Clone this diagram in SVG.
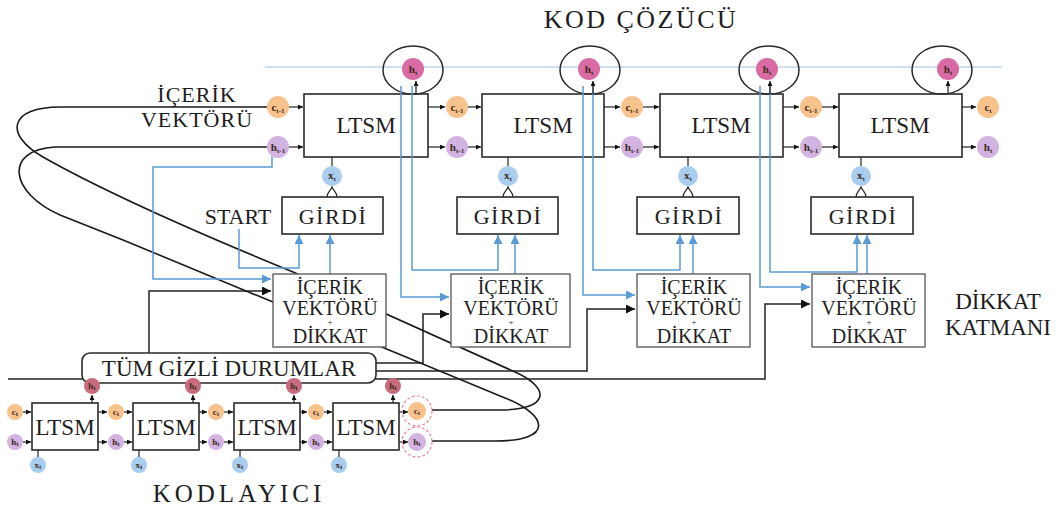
<svg xmlns="http://www.w3.org/2000/svg" width="1059" height="511" viewBox="0 0 1059 511">
<style>
.t{font-family:"Liberation Serif","Times New Roman",serif;fill:#1e1e1e}
.box{fill:#fff;stroke:#2a2a2a;stroke-width:1.6}
.abox{fill:#fff;stroke:#555;stroke-width:1.3}
.blk{fill:none;stroke:#222;stroke-width:1.5}
.blu{fill:none;stroke:#5b9bd5;stroke-width:1.5}
.cur{fill:none;stroke:#1a1a1a;stroke-width:1.6}
.sm{fill:none;stroke:#222;stroke-width:1.2}
.co{fill:#f8c28c}
.ch{fill:#d2b3e1}
.cx{fill:#a8cdef}
.cp{fill:#d96aa4}
.cr{fill:#c86b7d}
.lb{font-family:"Liberation Serif","Times New Roman",serif;font-size:11px;fill:#3a2a20;text-anchor:middle;font-weight:bold}
.le{font-family:"Liberation Serif","Times New Roman",serif;font-size:9px;fill:#3a2a20;text-anchor:middle;font-weight:bold}
.sb{font-size:7px}
.dash{fill:none;stroke:#e58a9a;stroke-width:1.2;stroke-dasharray:3 2}
.ell{fill:none;stroke:#2a2a2a;stroke-width:1.5}
</style>
<defs>
<marker id="ak" viewBox="0 0 10 10" refX="10" refY="5" markerWidth="9" markerHeight="9" markerUnits="userSpaceOnUse" orient="auto"><path d="M0,0 L10,5 L0,10 z" fill="#111"/></marker>
<marker id="ab" viewBox="0 0 10 10" refX="10" refY="5" markerWidth="9" markerHeight="9" markerUnits="userSpaceOnUse" orient="auto"><path d="M0,0 L10,5 L0,10 z" fill="#5b9bd5"/></marker>
<marker id="as" viewBox="0 0 10 10" refX="10" refY="5" markerWidth="5" markerHeight="5" markerUnits="userSpaceOnUse" orient="auto"><path d="M0,0 L10,5 L0,10 z" fill="#111"/></marker>
</defs>
<rect width="1059" height="511" fill="#fff"/>

<!-- titles -->
<text class="t" x="641" y="28" font-size="26" text-anchor="middle" letter-spacing="2.5">KOD ÇÖZÜCÜ</text>
<text class="t" x="239" y="502" font-size="25" text-anchor="middle" letter-spacing="4">KODLAYICI</text>
<text class="t" x="197" y="102" font-size="22" text-anchor="middle" letter-spacing="1">İÇERİK</text>
<text class="t" x="197" y="127" font-size="22" text-anchor="middle" letter-spacing="1">VEKTÖRÜ</text>
<text class="t" x="238" y="224" font-size="22" text-anchor="middle">START</text>
<text class="t" x="998" y="309" font-size="23" text-anchor="middle">DİKKAT</text>
<text class="t" x="998" y="335" font-size="23" text-anchor="middle">KATMANI</text>

<line x1="265" y1="67" x2="1002" y2="67" stroke="#9dc3e6" stroke-width="1.2"/>

<!-- decoder cells -->
<g id="dec1">
<rect class="box" x="304" y="94" width="124" height="63"/>
<text class="t" x="366" y="133" font-size="23" text-anchor="middle">LTSM</text>
<ellipse class="ell" cx="413" cy="70" rx="30" ry="24"/>
<circle class="cp" cx="413" cy="69" r="11"/>
<text class="lb" x="413" y="73">h<tspan class="sb" dy="2">t</tspan></text>
</g>
<g id="dec2">
<rect class="box" x="482" y="94" width="122" height="63"/>
<text class="t" x="543" y="133" font-size="23" text-anchor="middle">LTSM</text>
<ellipse class="ell" cx="590" cy="70" rx="30" ry="24"/>
<circle class="cp" cx="589" cy="69" r="11"/>
<text class="lb" x="589" y="73">h<tspan class="sb" dy="2">t</tspan></text>
</g>
<g id="dec3">
<rect class="box" x="660" y="94" width="123" height="63"/>
<text class="t" x="721" y="133" font-size="23" text-anchor="middle">LTSM</text>
<ellipse class="ell" cx="769" cy="70" rx="30" ry="24"/>
<circle class="cp" cx="767" cy="69" r="11"/>
<text class="lb" x="767" y="73">h<tspan class="sb" dy="2">t</tspan></text>
</g>
<g id="dec4">
<rect class="box" x="839" y="94" width="123" height="63"/>
<text class="t" x="900" y="133" font-size="23" text-anchor="middle">LTSM</text>
<ellipse class="ell" cx="942" cy="70" rx="30" ry="24"/>
<circle class="cp" cx="948" cy="69" r="11"/>
<text class="lb" x="948" y="73">h<tspan class="sb" dy="2">t</tspan></text>
</g>

<!-- connectors -->
<g id="connectors">
<path class="cur" d="M432,410 L500,410 C550,410 551,388 515,372 L293,272 C210,238 110,195 43,157 C3,134 10,107 60,107 L267,107"/>
<path class="cur" d="M432,441 L495,441 C555,441 548,415 505,398 L123,240 L60,215 C10,193 3,150 55,147 L267,147"/>
<path class="blk" d="M149,353 V291 H271" marker-end="url(#ak)"/>
<path class="blk" d="M376,363 H423 V314 H449" marker-end="url(#ak)"/>
<path class="blk" d="M376,371 H587 V309 H635" marker-end="url(#ak)"/>
<path class="blk" d="M8,379 H765 V304 H810" marker-end="url(#ak)" stroke="#333"/>
<path class="blu" d="M401,86 V297 H449" marker-end="url(#ab)"/>
<path class="blu" d="M412,86 V270 H498 V235" marker-end="url(#ab)"/>
<path class="blu" d="M583,86 V295 H635" marker-end="url(#ab)"/>
<path class="blu" d="M593,86 V270 H680 V235" marker-end="url(#ab)"/>
<path class="blu" d="M760,86 V287 H810" marker-end="url(#ab)"/>
<path class="blu" d="M770,86 V272 H857 V235" marker-end="url(#ab)"/>
<path class="blu" d="M330,274 V235" marker-end="url(#ab)"/>
<path class="blu" d="M515,274 V235" marker-end="url(#ab)"/>
<path class="blu" d="M693,274 V235" marker-end="url(#ab)"/>
<path class="blu" d="M867,274 V235" marker-end="url(#ab)"/>
<path class="blu" d="M239,229 V268 H299 V235" marker-end="url(#ab)"/>
<path class="blu" d="M272,156 V167 H153 V279 H271" marker-end="url(#ab)"/>
<!-- decoder small arrows -->
<g class="sm">
<path d="M416,94 V81" marker-end="url(#as)"/>
<path d="M593,94 V81" marker-end="url(#as)"/>
<path d="M770,94 V81" marker-end="url(#as)"/>
<path d="M948,94 V81" marker-end="url(#as)"/>
<path d="M289,107 H303" marker-end="url(#as)"/>
<path d="M289,147 H303" marker-end="url(#as)"/>
<path d="M428,107 H445" marker-end="url(#as)"/>
<path d="M428,147 H445" marker-end="url(#as)"/>
<path d="M468,107 H481" marker-end="url(#as)"/>
<path d="M468,147 H481" marker-end="url(#as)"/>
<path d="M604,107 H620" marker-end="url(#as)"/>
<path d="M604,147 H620" marker-end="url(#as)"/>
<path d="M643,107 H659" marker-end="url(#as)"/>
<path d="M643,147 H659" marker-end="url(#as)"/>
<path d="M783,107 H799" marker-end="url(#as)"/>
<path d="M783,147 H799" marker-end="url(#as)"/>
<path d="M822,107 H838" marker-end="url(#as)"/>
<path d="M822,147 H838" marker-end="url(#as)"/>
<path d="M962,107 H976" marker-end="url(#as)"/>
<path d="M962,147 H976" marker-end="url(#as)"/>
<path d="M332,157 V166"/>
<path d="M508,157 V166"/>
<path d="M688,157 V166"/>
<path d="M861,157 V166"/>
<path d="M327,197 C327,192 330,192 332,187 C334,192 337,192 337,197"/>
<path d="M503,197 C503,192 506,192 508,187 C510,192 513,192 513,197"/>
<path d="M683,197 C683,192 686,192 688,187 C690,192 693,192 693,197"/>
<path d="M856,197 C856,192 859,192 861,187 C863,192 866,192 866,197"/>
<!-- encoder small arrows -->
<path d="M23,412 H31" marker-end="url(#as)"/>
<path d="M23,442 H31" marker-end="url(#as)"/>
<path d="M98,412 H107" marker-end="url(#as)"/>
<path d="M98,442 H107" marker-end="url(#as)"/>
<path d="M124,412 H132" marker-end="url(#as)"/>
<path d="M124,442 H132" marker-end="url(#as)"/>
<path d="M199,412 H207" marker-end="url(#as)"/>
<path d="M199,442 H207" marker-end="url(#as)"/>
<path d="M224,412 H233" marker-end="url(#as)"/>
<path d="M224,442 H233" marker-end="url(#as)"/>
<path d="M300,412 H307" marker-end="url(#as)"/>
<path d="M300,442 H307" marker-end="url(#as)"/>
<path d="M324,412 H332" marker-end="url(#as)"/>
<path d="M324,442 H332" marker-end="url(#as)"/>
<path d="M399,412 H408" marker-end="url(#as)"/>
<path d="M399,442 H408" marker-end="url(#as)"/>
<path d="M92,403 V395" marker-end="url(#as)"/>
<path d="M193,403 V395" marker-end="url(#as)"/>
<path d="M294,403 V395" marker-end="url(#as)"/>
<path d="M393,403 V395" marker-end="url(#as)"/>
<path d="M38,450 V457"/>
<path d="M139,450 V457"/>
<path d="M240,450 V457"/>
<path d="M339,450 V457"/>
</g>
</g>

<!-- decoder state circles -->
<g id="dstates">
<circle class="co" cx="278" cy="107" r="11"/><text class="lb" x="278" y="111">c<tspan class="sb" dy="2">t-1</tspan></text>
<circle class="ch" cx="278" cy="147" r="11"/><text class="lb" x="278" y="151">h<tspan class="sb" dy="2">t-1</tspan></text>
<circle class="co" cx="457" cy="107" r="11"/><text class="lb" x="457" y="111">c<tspan class="sb" dy="2">t-1</tspan></text>
<circle class="ch" cx="457" cy="147" r="11"/><text class="lb" x="457" y="151">h<tspan class="sb" dy="2">t-1</tspan></text>
<circle class="co" cx="632" cy="107" r="11"/><text class="lb" x="632" y="111">c<tspan class="sb" dy="2">t-1</tspan></text>
<circle class="ch" cx="632" cy="147" r="11"/><text class="lb" x="632" y="151">h<tspan class="sb" dy="2">t-1</tspan></text>
<circle class="co" cx="811" cy="107" r="11"/><text class="lb" x="811" y="111">c<tspan class="sb" dy="2">t-1</tspan></text>
<circle class="ch" cx="811" cy="147" r="11"/><text class="lb" x="811" y="151">h<tspan class="sb" dy="2">t-1</tspan></text>
<circle class="co" cx="988" cy="107" r="11"/><text class="lb" x="988" y="111">c<tspan class="sb" dy="2">t</tspan></text>
<circle class="ch" cx="988" cy="147" r="11"/><text class="lb" x="988" y="151">h<tspan class="sb" dy="2">t</tspan></text>
<circle class="cx" cx="332" cy="176" r="10"/><text class="lb" x="332" y="179">x<tspan class="sb" dy="2">t</tspan></text>
<circle class="cx" cx="508" cy="176" r="10"/><text class="lb" x="508" y="179">x<tspan class="sb" dy="2">t</tspan></text>
<circle class="cx" cx="688" cy="176" r="10"/><text class="lb" x="688" y="179">x<tspan class="sb" dy="2">t</tspan></text>
<circle class="cx" cx="861" cy="176" r="10"/><text class="lb" x="861" y="179">x<tspan class="sb" dy="2">t</tspan></text>
</g>

<!-- input boxes -->
<g id="girdi1"><rect class="box" x="282" y="197" width="101" height="37"/><text class="t" x="333" y="224" font-size="22" text-anchor="middle" letter-spacing="1.5">GİRDİ</text></g>
<g id="girdi2"><rect class="box" x="457" y="197" width="101" height="37"/><text class="t" x="508" y="224" font-size="22" text-anchor="middle" letter-spacing="1.5">GİRDİ</text></g>
<g id="girdi3"><rect class="box" x="637" y="197" width="102" height="37"/><text class="t" x="689" y="224" font-size="22" text-anchor="middle" letter-spacing="1.5">GİRDİ</text></g>
<g id="girdi4"><rect class="box" x="811" y="197" width="102" height="37"/><text class="t" x="863" y="224" font-size="22" text-anchor="middle" letter-spacing="1.5">GİRDİ</text></g>

<!-- attention boxes -->
<g id="att1"><rect class="abox" x="273" y="274" width="113" height="73"/>
<text class="t" x="330" y="294" font-size="20" text-anchor="middle">İÇERİK</text><text class="t" x="330" y="315" font-size="20" text-anchor="middle">VEKTÖRÜ</text><text class="t" x="330" y="325" font-size="9" text-anchor="middle">+</text><text class="t" x="330" y="343" font-size="20" text-anchor="middle">DİKKAT</text></g>
<g id="att2"><rect class="abox" x="451" y="274" width="119" height="73"/>
<text class="t" x="511" y="294" font-size="20" text-anchor="middle">İÇERİK</text><text class="t" x="511" y="315" font-size="20" text-anchor="middle">VEKTÖRÜ</text><text class="t" x="511" y="325" font-size="9" text-anchor="middle">+</text><text class="t" x="511" y="343" font-size="20" text-anchor="middle">DİKKAT</text></g>
<g id="att3"><rect class="abox" x="637" y="274" width="113" height="73"/>
<text class="t" x="694" y="294" font-size="20" text-anchor="middle">İÇERİK</text><text class="t" x="694" y="315" font-size="20" text-anchor="middle">VEKTÖRÜ</text><text class="t" x="694" y="325" font-size="9" text-anchor="middle">+</text><text class="t" x="694" y="343" font-size="20" text-anchor="middle">DİKKAT</text></g>
<g id="att4"><rect class="abox" x="812" y="274" width="113" height="73"/>
<text class="t" x="869" y="294" font-size="20" text-anchor="middle">İÇERİK</text><text class="t" x="869" y="315" font-size="20" text-anchor="middle">VEKTÖRÜ</text><text class="t" x="869" y="325" font-size="9" text-anchor="middle">+</text><text class="t" x="869" y="343" font-size="20" text-anchor="middle">DİKKAT</text></g>

<!-- all hidden states -->
<g id="hidden">
<rect class="box" x="82" y="353" width="294" height="30" rx="8"/>
<text class="t" x="229" y="376" font-size="23" text-anchor="middle">TÜM GİZLİ DURUMLAR</text>
</g>

<!-- encoder -->
<g id="enc1"><rect class="box" x="32" y="403" width="66" height="47"/><text class="t" x="65" y="435" font-size="23" text-anchor="middle">LTSM</text></g>
<g id="enc2"><rect class="box" x="133" y="403" width="66" height="47"/><text class="t" x="166" y="435" font-size="23" text-anchor="middle">LTSM</text></g>
<g id="enc3"><rect class="box" x="234" y="403" width="66" height="47"/><text class="t" x="267" y="435" font-size="23" text-anchor="middle">LTSM</text></g>
<g id="enc4"><rect class="box" x="333" y="403" width="66" height="47"/><text class="t" x="366" y="435" font-size="23" text-anchor="middle">LTSM</text></g>

<g id="estates">
<circle class="cr" cx="92" cy="386" r="8"/><text class="le" x="92" y="389">h<tspan class="sb" dy="1">t</tspan></text>
<circle class="cr" cx="193" cy="386" r="8"/><text class="le" x="193" y="389">h<tspan class="sb" dy="1">t</tspan></text>
<circle class="cr" cx="294" cy="386" r="8"/><text class="le" x="294" y="389">h<tspan class="sb" dy="1">t</tspan></text>
<circle class="cr" cx="393" cy="386" r="8"/><text class="le" x="393" y="389">h<tspan class="sb" dy="1">t</tspan></text>
<circle class="co" cx="15" cy="412" r="8"/><text class="le" x="15" y="415">c<tspan class="sb" dy="1">t</tspan></text>
<circle class="ch" cx="15" cy="442" r="8"/><text class="le" x="15" y="445">h<tspan class="sb" dy="1">t</tspan></text>
<circle class="co" cx="116" cy="412" r="8"/><text class="le" x="116" y="415">c<tspan class="sb" dy="1">t</tspan></text>
<circle class="ch" cx="116" cy="442" r="8"/><text class="le" x="116" y="445">h<tspan class="sb" dy="1">t</tspan></text>
<circle class="co" cx="216" cy="412" r="8"/><text class="le" x="216" y="415">c<tspan class="sb" dy="1">t</tspan></text>
<circle class="ch" cx="216" cy="442" r="8"/><text class="le" x="216" y="445">h<tspan class="sb" dy="1">t</tspan></text>
<circle class="co" cx="316" cy="412" r="8"/><text class="le" x="316" y="415">c<tspan class="sb" dy="1">t</tspan></text>
<circle class="ch" cx="316" cy="442" r="8"/><text class="le" x="316" y="445">h<tspan class="sb" dy="1">t</tspan></text>
<circle class="dash" cx="417" cy="411" r="15"/>
<circle class="dash" cx="417" cy="442" r="15"/>
<circle class="co" cx="417" cy="411" r="9"/><text class="le" x="417" y="414">c<tspan class="sb" dy="1">t</tspan></text>
<circle class="ch" cx="417" cy="442" r="9"/><text class="le" x="417" y="445">h<tspan class="sb" dy="1">t</tspan></text>
<circle class="cx" cx="38" cy="465" r="8"/><text class="le" x="38" y="468">x<tspan class="sb" dy="1">t</tspan></text>
<circle class="cx" cx="139" cy="465" r="8"/><text class="le" x="139" y="468">x<tspan class="sb" dy="1">t</tspan></text>
<circle class="cx" cx="240" cy="465" r="8"/><text class="le" x="240" y="468">x<tspan class="sb" dy="1">t</tspan></text>
<circle class="cx" cx="339" cy="465" r="8"/><text class="le" x="339" y="468">x<tspan class="sb" dy="1">t</tspan></text>
</g>
</svg>
